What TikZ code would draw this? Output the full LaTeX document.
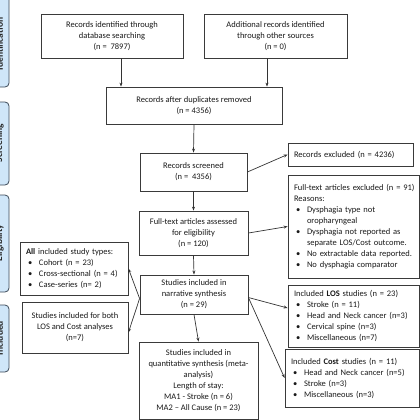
\documentclass[tikz,border=0pt]{standalone}
\usepackage{fontspec}
\setmainfont{Carlito}
\usetikzlibrary{arrows.meta}
\definecolor{barfill}{HTML}{CFE6F9}
\definecolor{barline}{HTML}{3D4A58}
\definecolor{boxline}{HTML}{3A3A3A}
\newcommand{\bul}{\hspace*{4pt}\makebox[11pt][l]{\textbullet}}
\newcommand{\bulc}{\hspace*{15pt}}
\tikzset{
  box/.style={draw=boxline, line width=0.8pt, inner sep=5pt, align=center,
    font=\fontsize{8.5}{11}\selectfont, text=black!90},
  lbox/.style={box, align=left, inner xsep=4pt,
    execute at begin node={\hyphenpenalty=10000\exhyphenpenalty=10000}},
  phase/.style={draw=barline, fill=barfill, line width=0.8pt, rounded corners=4pt},
  phasetxt/.style={rotate=90, font=\fontsize{9.5}{11}\selectfont\bfseries, text=black!85},
  arr/.style={-{Stealth[length=4pt,width=3pt]}, draw=black!80, line width=0.7pt}
}
\begin{document}
\begin{tikzpicture}[x=1pt,y=-1pt]
  \clip (0,0) rectangle (420,420);
  \useasboundingbox (0,0) rectangle (420,420);
  % phase bars
  \draw [phase] (-20,-10) rectangle (9,87);
  \draw [phase] (-20,102) rectangle (9,185);
  \draw [phase] (-20,195) rectangle (9,292);
  \draw [phase] (-20,305) rectangle (9,372);
  \node [phasetxt] (pid) at (-0.5,44) {Identification};
  \node [phasetxt] (pscr) at (-0.5,143) {Screening};
  \node [phasetxt] (pel) at (-0.5,243) {Eligibility};
  \node [phasetxt] (pinc) at (-0.5,338) {Included};
  % boxes
  \node [box, minimum width=142pt, minimum height=44pt] (db) at (112,36)
    {Records identified through\\database searching\\(n =\ \ 7897)};
  \node [box, minimum width=143pt, minimum height=44pt] (oth) at (275.5,36)
    {Additional records identified\\through other sources\\(n = 0)};
  \node [box, minimum width=176pt, minimum height=37pt] (dup) at (194,105.5)
    {Records after duplicates removed\\(n = 4356)};
  \node [box, minimum width=107pt, minimum height=38pt] (scr) at (193.5,172)
    {Records screened\\(n =\ \ 4356)};
  \node [lbox, minimum height=23pt, text width=117pt] (exc) at (350.5,154.5)
    {\hspace*{2pt}Records excluded (n = 4236)};
  \node [box, minimum width=109pt, minimum height=44pt] (ft) at (193.5,233)
    {Full-text articles assessed\\for eligibility\\(n = 120)};
  \node [lbox, minimum height=103pt, text width=123pt] (ftexc) at (353.5,226.5)
    {\hspace*{2pt}Full-text articles excluded (n = 91)\\\hspace*{2pt}Reasons:\\
     \bul Dysphagia type not\\\bulc oropharyngeal\\
     \bul Dysphagia not reported as\\\bulc separate LOS/Cost outcome.\\
     \bul No extractable data reported.\\
     \bul No dysphagia comparator};
  \node [box, minimum width=108pt, minimum height=37pt] (nar) at (194,294.5)
    {Studies included in\\narrative synthesis\\(n = 29)};
  \node [lbox, minimum height=53pt, text width=100pt] (types) at (74,268.5)
    {\hspace*{2pt}\textbf{All} included study types:\\
     \bul Cohort (n = 23)\\
     \bul Cross-sectional (n = 4)\\
     \bul Case-series (n= 2)};
  \node [box, minimum width=106pt, minimum height=51pt] (both) at (75,327.5)
    {Studies included for both\\LOS and Cost analyses\\(n=7)};
  \node [lbox, minimum height=62pt, text width=123pt] (los) at (353.5,316)
    {\hspace*{2pt}Included \textbf{LOS} studies (n = 23)\\
     \bul Stroke (n = 11)\\
     \bul Head and Neck cancer (n=3)\\
     \bul Cervical spine (n=3)\\
     \bul Miscellaneous (n=7)};
  \node [lbox, minimum height=58pt, text width=126pt] (cost) at (352,378)
    {\hspace*{2pt}Included \textbf{Cost} studies (n = 11)\\
     \bul Head and Neck cancer (n=5)\\
     \bul Stroke (n=3)\\
     \bul Miscellaneous (n=3)};
  \node [box, minimum width=119pt, minimum height=77pt] (quant) at (198.5,380.5)
    {Studies included in\\quantitative synthesis (meta-\\analysis)\\Length of stay:\\
     MA1 - Stroke (n = 6)\\MA2 -- All Cause (n = 23)};
  % connectors
  \draw [arr] ([xshift=9pt]db.south) -- ([xshift=9pt]db.south |- dup.north);
  \draw [arr] ([xshift=-8.5pt]oth.south) -- ([xshift=-8.5pt]oth.south |- dup.north);
  \draw [arr] (dup.south) -- (scr.north);
  \draw [arr] (scr.east) -- (exc.west);
  \draw [arr] (scr.south) -- (ft.north);
  \draw [arr] (ft.east) -- (ftexc.west);
  \draw [arr] (ft.south) -- (nar.north);
  \draw [arr] ([yshift=-3pt]nar.east) -- ([yshift=8pt]los.west);
  \draw [arr] ([yshift=-3pt]nar.east) -- (cost.west);
  \draw [arr] (nar.south) -- (quant.north);
  \draw [arr] ([yshift=-4pt]nar.west) -- (types.east);
  \draw [arr] ([yshift=-4pt]nar.west) -- ([yshift=-5pt]both.east);
\end{tikzpicture}
\end{document}
